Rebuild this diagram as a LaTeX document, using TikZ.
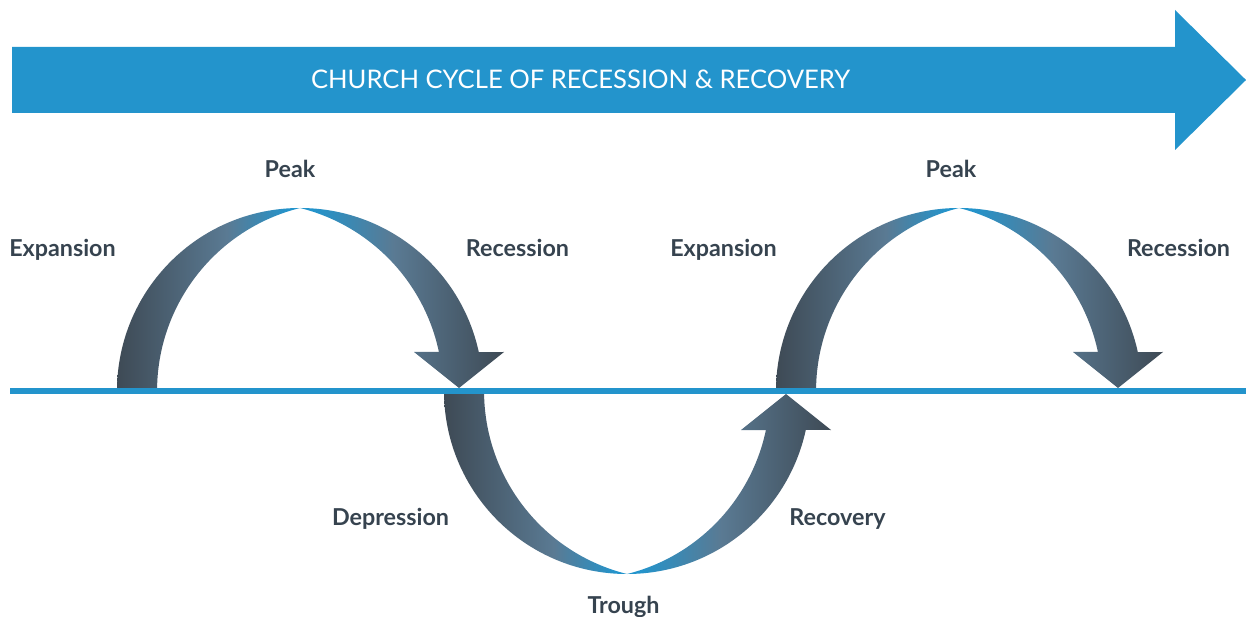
\documentclass[tikz,border=0pt]{standalone}
\usepackage{fontspec}
\setmainfont{Lato}
\usepackage{xcolor}
\usepackage{tikz}

\definecolor{cycleblue}{HTML}{2394CC}
\definecolor{arcdark}{HTML}{3E4A55}
\definecolor{arcslate}{HTML}{5A7A93}
\definecolor{labeltext}{HTML}{36434F}

\pgfdeclarehorizontalshading{arcrise}{100bp}{color(0bp)=(arcdark); color(25bp)=(arcdark); color(55bp)=(arcslate); color(72bp)=(cycleblue); color(100bp)=(cycleblue)}
\pgfdeclarehorizontalshading{arcfall}{100bp}{color(0bp)=(cycleblue); color(28bp)=(cycleblue); color(48bp)=(arcslate); color(75bp)=(arcdark); color(100bp)=(arcdark)}

\tikzset{
	phase/.style={font=\bfseries\fontsize{23.3}{28}\selectfont, text=labeltext, anchor=base, inner sep=0pt},
	banner/.style={font=\fontsize{25.6}{30}\selectfont, text=white, anchor=base, inner sep=0pt}
}

% one loop of the cycle, centred on the axis
\newcommand{\cyclearc}{%
	\shade[shading=arcrise] (-183,0) arc[start angle=180, end angle=90, radius=183]
		arc[start angle=104.01, end angle=180, radius=188.594] -- cycle;
	\shade[shading=arcfall] (0,183) arc[start angle=90, end angle=12.3, radius=183]
		-- (204,39) -- (159,3) -- (114,39) -- (138.92,39)
		arc[start angle=11.934, end angle=76.01, radius=188.594] -- cycle;
}

\begin{document}
\begin{tikzpicture}[x=1pt,y=1pt]
				\useasboundingbox (0,0) rectangle (1246,616);
	
				\fill[cycleblue] (12,503) -- (1175,503) -- (1175,466) -- (1246,536) -- (1175,606) -- (1175,569) -- (12,569) -- cycle;
				\node[banner] (title) at (580.5,527) {CHURCH CYCLE OF RECESSION \& RECOVERY};
	
				\begin{scope}[shift={(300,225)}] \cyclearc \end{scope}
				\begin{scope}[shift={(627,225)}, yscale=-1] \cyclearc \end{scope}
				\begin{scope}[shift={(959,225)}] \cyclearc \end{scope}
	
				\draw[cycleblue, line width=6pt] (10,225) -- (1246,225);
	
				\node[phase] (expansionA) at (62.5,359) {Expansion};
				\node[phase] (peakA) at (290,438) {Peak};
				\node[phase] (recessionA) at (517.5,359) {Recession};
				\node[phase] (depression) at (390.5,91) {Depression};
				\node[phase] (trough) at (623.5,3) {Trough};
				\node[phase] (recovery) at (837.5,91) {Recovery};
				\node[phase] (expansionB) at (723.5,359) {Expansion};
				\node[phase] (peakB) at (951,438) {Peak};
				\node[phase] (recessionB) at (1178.5,359) {Recession};
			\end{tikzpicture}
\end{document}
